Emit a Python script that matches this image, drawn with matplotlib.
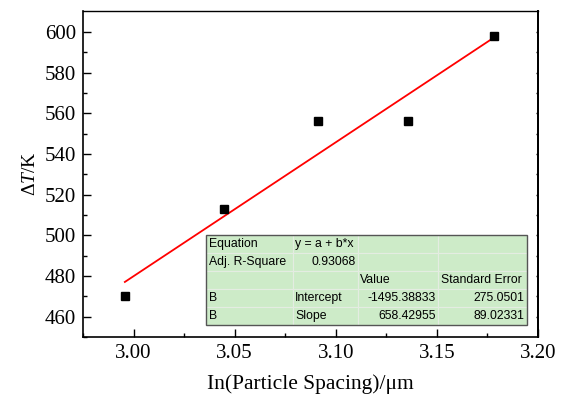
import numpy as np
import matplotlib
matplotlib.use("Agg")
import matplotlib.pyplot as plt
from matplotlib.patches import Rectangle

# Data
x_vals = [2.9957, 3.0445, 3.0910, 3.1355, 3.1781]
y_vals = [470, 513, 556, 556, 598]
fit_intercept = -1495.38833
fit_slope = 658.42955
x_ticks = [3.00, 3.05, 3.10, 3.15, 3.20]
y_ticks = [460, 480, 500, 520, 540, 560, 580, 600]
table_rows = [
    ["Equation", "y = a + b*x", "", ""],
    ["Adj. R-Square", "0.93068", "", ""],
    ["", "", "Value", "Standard Error"],
    ["B", "Intercept", "-1495.38833", "275.0501"],
    ["B", "Slope", "658.42955", "89.02331"],
]

plt.rcParams['mathtext.fontset'] = 'custom'
plt.rcParams['mathtext.rm'] = 'Liberation Serif'
plt.rcParams['mathtext.it'] = 'Liberation Serif:italic'

W, H = 571, 396
fig = plt.figure(figsize=(W/100, H/100), dpi=100)
ax = fig.add_axes([83/W, 1-337/H, (538-83)/W, (337-11)/H])

ax.plot(x_vals, y_vals, 's', color='black', markersize=6, zorder=3)
xf = np.array([x_vals[0], x_vals[-1]])
ax.plot(xf, fit_intercept + fit_slope*xf, color='red', lw=1.3, zorder=2)

ax.set_xlim(2.9753, 3.20)
ax.set_ylim(450.7, 610.3)
ax.set_xticks(x_ticks)
ax.set_xticklabels([f"{t:.2f}" for t in x_ticks])
ax.set_yticks(y_ticks)
ax.set_xticks([2.975 + 0.05*i for i in range(5)], minor=True)
ax.set_yticks([470 + 20*i for i in range(7)] + [450], minor=True)
ax.tick_params(which='major', direction='in', length=6, width=1, labelsize=15,
               left=True, bottom=True, right=False, top=False, pad=5)
ax.tick_params(which='minor', direction='in', length=3, width=1,
               left=True, bottom=True, right=False, top=False)
for lab in ax.get_xticklabels() + ax.get_yticklabels():
    lab.set_family('Liberation Serif')
# tiny ticks on the right spine
ax2 = ax.secondary_yaxis('right')
ax2.set_yticks(y_ticks)
ax2.set_yticks([470 + 20*i for i in range(7)], minor=True)
ax2.tick_params(which='both', direction='in', length=1.5, width=1, labelright=False)
ax2.spines['right'].set_linewidth(1.4)
for s in ax.spines.values():
    s.set_linewidth(1.2)
ax.spines['top'].set_linewidth(1.0)

ax.set_xlabel("In(Particle Spacing)/\u03bcm", family='Liberation Serif', fontsize=15.5, labelpad=8)
ax.set_ylabel("\u0394$T$/K", family='Liberation Serif', fontsize=14, labelpad=4)

# table
tx0, tx1 = (206-83)/455, (527-83)/455
ty0, ty1 = (337-325)/326, (337-235)/326
tbl = ax.table(cellText=table_rows, bbox=[tx0, ty0, tx1-tx0, ty1-ty0],
               colWidths=[87, 65, 80, 89], cellLoc='left')
tbl.auto_set_font_size(False)
right_cells = {(1, 1), (3, 2), (4, 2), (3, 3), (4, 3)}
for (r, c), cell in tbl.get_celld().items():
    cell.set_facecolor('#cdebc8')
    cell.set_edgecolor('#e4ece2')
    cell.set_linewidth(0.8)
    cell.get_text().set_fontsize(8.8)
    cell.get_text().set_family('Liberation Sans')
    cell.PAD = 0.03
    if (r, c) in right_cells:
        cell.get_text().set_ha('right')
        cell._loc = 'right'
ax.add_patch(Rectangle((tx0, ty0), tx1-tx0, ty1-ty0, transform=ax.transAxes,
                       fill=False, edgecolor='#555555', lw=1.0, zorder=10))

fig.savefig("out.png", dpi=100)
